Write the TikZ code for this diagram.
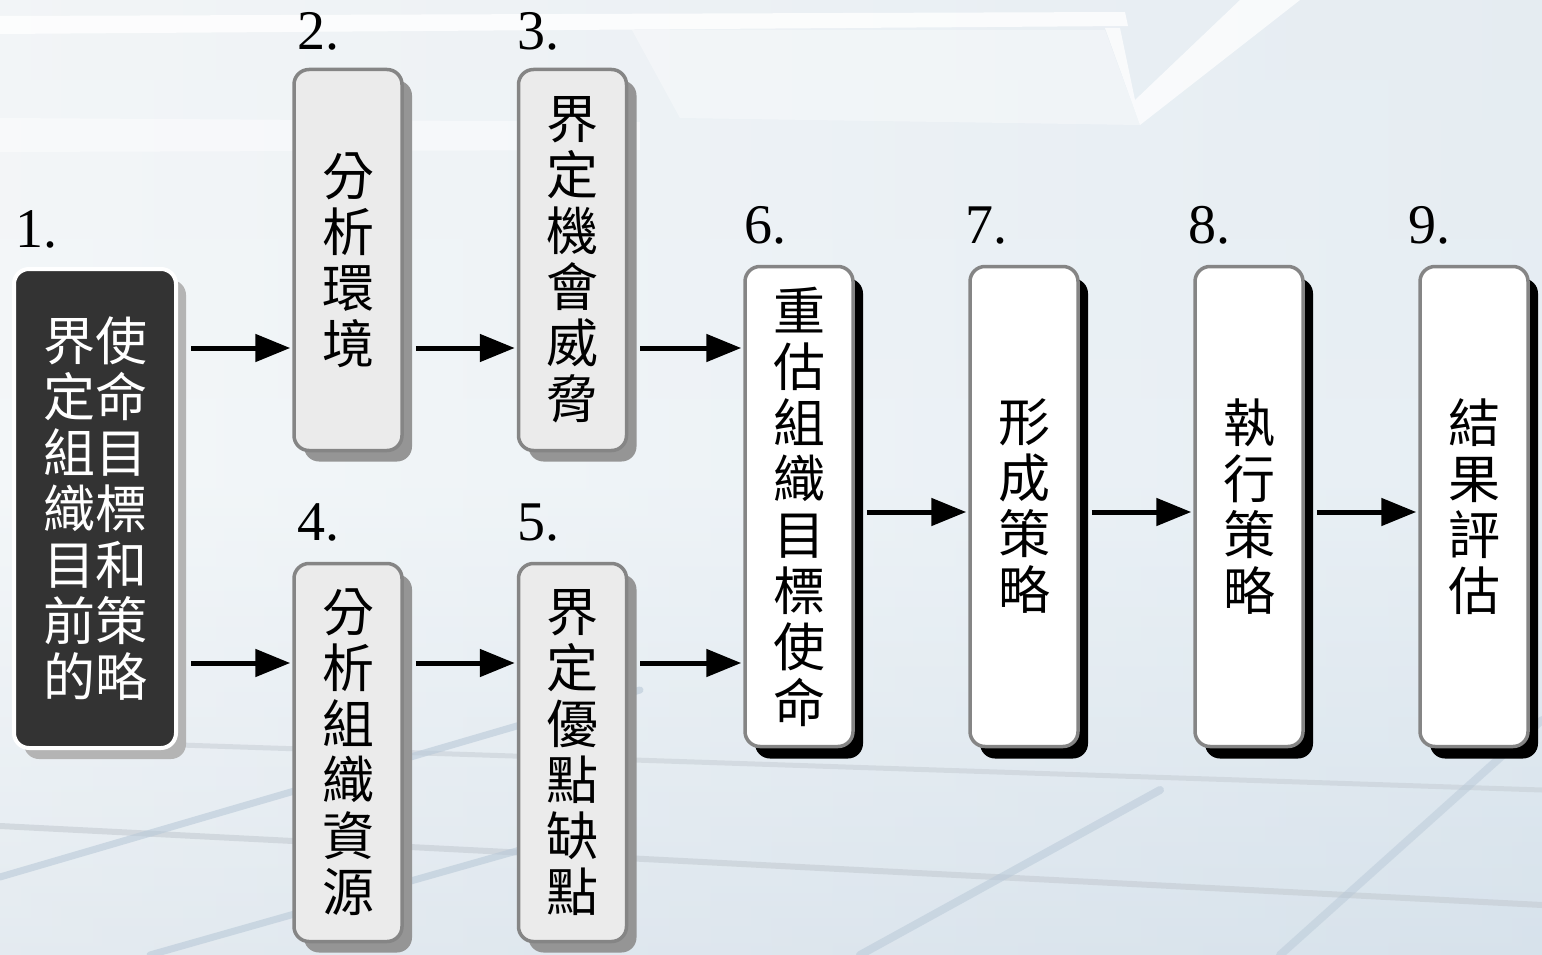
\documentclass[tikz,border=0pt]{standalone}
\usepackage{fontspec}
\setmainfont{Liberation Serif}
\newfontfamily\cjk{Noto Sans CJK TC}
\usetikzlibrary{arrows.meta,shadows,calc}
\definecolor{bgtop}{HTML}{ECF0F3}
\definecolor{bgmid}{HTML}{EEF3F6}
\definecolor{bgbot}{HTML}{D6E0E9}
\definecolor{bgright}{HTML}{D9E6F0}
\definecolor{floorline}{HTML}{B9C9D8}
\definecolor{floorgray}{HTML}{C4CBD2}
\definecolor{darkfill}{HTML}{333333}
\definecolor{grayfill}{HTML}{EBEBEB}
\definecolor{boxborder}{HTML}{858585}
\definecolor{shadowlight}{HTML}{B4B4B4}
\definecolor{shadowmid}{HTML}{959595}
\begin{document}
\begin{tikzpicture}[x=1pt,y=-1pt,
  box/.style={rectangle, rounded corners=15pt, align=center, inner sep=0pt,
    font=\cjk\fontsize{52}{56}\selectfont, minimum width=108pt},
  darkbox/.style={box, fill=darkfill, draw=white, line width=4pt, text=white,
    drop shadow={shadow xshift=10pt,shadow yshift=-11pt,opacity=1,fill=shadowlight}},
  graybox/.style={box, fill=grayfill, draw=boxborder, line width=3.5pt,
    drop shadow={shadow xshift=10pt,shadow yshift=-11pt,opacity=1,fill=shadowmid}},
  whitebox/.style={box, fill=white, draw=boxborder, line width=3.5pt,
    drop shadow={shadow xshift=10pt,shadow yshift=-12pt,opacity=1,fill=black}},
  num/.style={font=\fontsize{56}{60}\selectfont, inner sep=0pt, anchor=base west},
  arr/.style={line width=5pt, -{Triangle[length=35pt,width=27pt]}},
  deco/.style={line width=#1, line cap=round}
]
% ---------- background ----------
\useasboundingbox (0,0) rectangle (1542,955);
\shade[top color=bgtop, bottom color=bgbot, middle color=bgmid] (0,0) rectangle (1542,955);
\shade[left color=white, right color=bgright, opacity=0.35] (0,0) rectangle (1542,955);
% top light bands
\fill[white, opacity=0.8] (0,16) -- (1125,12) -- (1128,26) -- (0,34) -- cycle;
\fill[white, opacity=0.45] (0,118) -- (640,122) -- (640,150) -- (0,152) -- cycle;
\fill[white, opacity=0.35] (632,30) -- (1105,30) -- (1140,125) -- (680,118) -- cycle;
\fill[white, opacity=0.75] (1105,28) -- (1140,125) -- (1300,0) -- (1240,0) -- (1135,100) -- (1120,28) -- cycle;
% floor lines
\draw[floorgray, deco=6pt, opacity=0.6] (0,826) -- (1542,905);
\draw[floorgray, deco=5pt, opacity=0.5] (180,745) -- (1542,790);
\draw[floorline, deco=7pt, opacity=0.6] (0,877) -- (640,690);
\draw[floorline, deco=7pt, opacity=0.6] (150,955) -- (520,850);
\draw[floorline, deco=8pt, opacity=0.55] (860,955) -- (1160,790);
\draw[floorline, deco=8pt, opacity=0.5] (1280,955) -- (1542,720);
% ---------- boxes ----------
\node[darkbox, minimum width=162pt, minimum height=479pt] (b1) at (95,508.5)
  {界使\\定命\\組目\\織標\\目和\\前策\\的略};
\node[graybox, minimum height=381pt] (b2) at (348,260) {分\\析\\環\\境};
\node[graybox, minimum height=381pt] (b3) at (572.5,260) {界\\定\\機\\會\\威\\脅};
\node[graybox, minimum height=378pt] (b4) at (348,752.5) {分\\析\\組\\織\\資\\源};
\node[graybox, minimum height=378pt] (b5) at (572.5,752.5) {界\\定\\優\\點\\缺\\點};
\node[whitebox, minimum height=480pt] (b6) at (799,506.5) {重\\估\\組\\織\\目\\標\\使\\命};
\node[whitebox, minimum height=480pt] (b7) at (1024,506.5) {形\\成\\策\\略};
\node[whitebox, minimum height=480pt] (b8) at (1249,506.5) {執\\行\\策\\略};
\node[whitebox, minimum height=480pt] (b9) at (1474,506.5) {結\\果\\評\\估};
% ---------- numbers ----------
\node[num] (n1) at (15,247) {1.};
\node[num] (n2) at (297,50) {2.};
\node[num] (n3) at (517,50) {3.};
\node[num] (n4) at (297,540) {4.};
\node[num] (n5) at (517,540) {5.};
\node[num] (n6) at (744,243) {6.};
\node[num] (n7) at (965,243) {7.};
\node[num] (n8) at (1188,243) {8.};
\node[num] (n9) at (1408,243) {9.};
% ---------- arrows ----------
\coordinate (ya) at (0,348);
\coordinate (yb) at (0,663);
\coordinate (yc) at (0,512);
\draw[arr] ($(b1.east|-ya)+(13,0)$) -- ($(b2.west|-ya)+(-2,0)$);
\draw[arr] ($(b2.east|-ya)+(12,0)$) -- ($(b3.west|-ya)+(-2,0)$);
\draw[arr] ($(b3.east|-ya)+(12,0)$) -- ($(b6.west|-ya)+(-2,0)$);
\draw[arr] ($(b1.east|-yb)+(13,0)$) -- ($(b4.west|-yb)+(-2,0)$);
\draw[arr] ($(b4.east|-yb)+(12,0)$) -- ($(b5.west|-yb)+(-2,0)$);
\draw[arr] ($(b5.east|-yb)+(12,0)$) -- ($(b6.west|-yb)+(-2,0)$);
\draw[arr] ($(b6.east|-yc)+(12,0)$) -- ($(b7.west|-yc)+(-2,0)$);
\draw[arr] ($(b7.east|-yc)+(12,0)$) -- ($(b8.west|-yc)+(-2,0)$);
\draw[arr] ($(b8.east|-yc)+(12,0)$) -- ($(b9.west|-yc)+(-2,0)$);
\end{tikzpicture}
\end{document}
